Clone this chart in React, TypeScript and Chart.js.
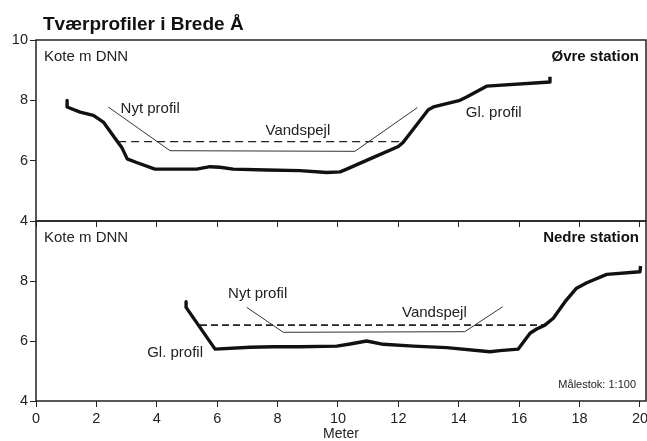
import React, { useEffect, useRef } from 'react';
import { Chart, registerables } from 'chart.js';
Chart.register(...registerables);

const FONT = "'Liberation Sans', Arial, Helvetica, sans-serif";
const INK = '#222';
const TICK_SIZE = 14.5;
const LABEL_SIZE = 15;

// ---- Øvre station (top panel) ----
const topOldX = [1.03, 1.03, 1.46, 1.9, 2.23, 2.67, 2.84, 3.02, 3.33, 3.94, 5.32, 5.76, 6.09, 6.53, 7.64, 8.74, 9.63, 10.07, 10.29, 11.06, 12.0, 12.16, 12.99, 13.16, 14.04, 14.26, 14.92, 17.02, 17.02];
const topOldY = [8.0, 7.78, 7.61, 7.5, 7.28, 6.67, 6.44, 6.06, 5.94, 5.72, 5.72, 5.8, 5.78, 5.72, 5.69, 5.67, 5.61, 5.63, 5.72, 6.06, 6.47, 6.61, 7.69, 7.78, 8.0, 8.11, 8.47, 8.61, 8.78];
const topNewX = [2.39, 4.44, 10.56, 12.63];
const topNewY = [7.78, 6.33, 6.31, 7.76];
const topWaterX = [2.72, 12.1];
const topWaterY = [6.63, 6.63];

// ---- Nedre station (bottom panel) ----
const botOldX = [4.97, 4.97, 5.93, 7.09, 7.86, 8.74, 9.96, 10.4, 10.95, 11.5, 12.5, 13.6, 15.03, 15.36, 15.97, 16.36, 16.58, 16.85, 17.13, 17.52, 17.9, 18.24, 18.9, 20.0, 20.02];
const botOldY = [7.31, 7.12, 5.73, 5.79, 5.81, 5.81, 5.83, 5.9, 6.0, 5.89, 5.83, 5.78, 5.64, 5.68, 5.73, 6.26, 6.4, 6.53, 6.76, 7.31, 7.76, 7.94, 8.22, 8.31, 8.5];
const botNewX = [6.98, 8.19, 14.2, 15.45];
const botNewY = [7.12, 6.29, 6.31, 7.14];
const botWaterX = [5.43, 16.8];
const botWaterY = [6.53, 6.53];

const xMin = 0;
const xMax = 20.2;
const xStep = 2;
const yMin = 4;
const yMax = 10;
const yStep = 2;

const title = 'Tværprofiler i Brede Å';
const yLabel = 'Kote m DNN';
const xTitle = 'Meter';
const topStation = 'Øvre station';
const botStation = 'Nedre station';
const scaleNote = 'Målestok: 1:100';

type Lbl = { text: string; x: number; y: number; align: CanvasTextAlign };
const topLabels: Lbl[] = [
  { text: 'Nyt profil', x: 2.8, y: 7.73, align: 'left' },
  { text: 'Vandspejl', x: 7.6, y: 7.0, align: 'left' },
  { text: 'Gl. profil', x: 14.23, y: 7.6, align: 'left' },
];
const botLabels: Lbl[] = [
  { text: 'Nyt profil', x: 6.36, y: 7.57, align: 'left' },
  { text: 'Vandspejl', x: 12.12, y: 6.93, align: 'left' },
  { text: 'Gl. profil', x: 5.53, y: 5.6, align: 'right' },
];

const pts = (xs: number[], ys: number[]) => xs.map((x, i) => ({ x, y: ys[i] }));

function datasets(oldX: number[], oldY: number[], newX: number[], newY: number[], wX: number[], wY: number[], dash: number[], wWidth: number) {
  return [
    { label: 'Gl. profil', data: pts(oldX, oldY), borderColor: '#111', borderWidth: 3.4, showLine: true, pointRadius: 0, borderJoinStyle: 'round', borderCapStyle: 'butt', tension: 0 },
    { label: 'Nyt profil', data: pts(newX, newY), borderColor: '#333', borderWidth: 1, showLine: true, pointRadius: 0, tension: 0 },
    { label: 'Vandspejl', data: pts(wX, wY), borderColor: '#222', borderWidth: wWidth, borderDash: dash, showLine: true, pointRadius: 0, tension: 0 },
  ];
}

function makePlugin(labels: Lbl[], extra: (ctx: CanvasRenderingContext2D, a: any) => void) {
  return {
    id: 'panelDecor',
    afterDraw(chart: any) {
      const { ctx, chartArea: a, scales } = chart;
      ctx.save();
      ctx.strokeStyle = INK;
      ctx.lineWidth = 1.5;
      ctx.strokeRect(a.left, a.top, a.right - a.left, a.bottom - a.top);
      ctx.fillStyle = INK;
      ctx.textBaseline = 'middle';
      ctx.font = `${LABEL_SIZE}px ${FONT}`;
      for (const l of labels) {
        ctx.textAlign = l.align;
        ctx.fillText(l.text, scales.x.getPixelForValue(l.x), scales.y.getPixelForValue(l.y));
      }
      extra(ctx, a);
      ctx.restore();
    },
  };
}

function axisX(showLabels: boolean) {
  return {
    type: 'linear',
    min: xMin,
    max: xMax,
    ticks: {
      display: showLabels,
      stepSize: xStep,
      includeBounds: false,
      autoSkip: false,
      maxRotation: 0,
      font: { family: FONT, size: TICK_SIZE },
      color: INK,
      padding: 3,
    },
    title: showLabels
      ? { display: true, text: xTitle, font: { family: FONT, size: 14 }, color: INK, padding: { top: 0, bottom: 0 } }
      : { display: false },
    grid: { drawOnChartArea: false, drawTicks: true, tickLength: 6, color: INK, lineWidth: 1 },
    border: { display: false },
    afterFit: (s: any) => {
      s.height = showLabels ? 42 : 9;
      s.paddingLeft = 0;
      s.paddingRight = 0;
    },
  };
}

function axisY(hideTop: boolean) {
  return {
    type: 'linear',
    min: yMin,
    max: yMax,
    ticks: {
      stepSize: yStep,
      font: { family: FONT, size: TICK_SIZE },
      color: INK,
      padding: 2,
      callback: (v: number) => (hideTop && v === yMax ? '' : String(v)),
    },
    grid: { drawOnChartArea: false, drawTicks: true, tickLength: 6, color: INK, lineWidth: 1 },
    border: { display: false },
    afterFit: (s: any) => {
      s.width = 36;
      s.paddingTop = 0;
      s.paddingBottom = 0;
    },
  };
}

export default function App() {
  const aRef = useRef<HTMLCanvasElement>(null);
  const bRef = useRef<HTMLCanvasElement>(null);

  useEffect(() => {
    const topPlugin = makePlugin(topLabels, (ctx, a) => {
      ctx.textBaseline = 'alphabetic';
      ctx.textAlign = 'left';
      ctx.font = `bold 19px ${FONT}`;
      ctx.fillStyle = '#111';
      ctx.fillText(title, 43, 30);
      ctx.fillStyle = INK;
      ctx.textBaseline = 'middle';
      ctx.font = `${LABEL_SIZE}px ${FONT}`;
      ctx.fillText(yLabel, a.left + 8, a.top + 17);
      ctx.textAlign = 'right';
      ctx.font = `bold ${LABEL_SIZE}px ${FONT}`;
      ctx.fillStyle = '#111';
      ctx.fillText(topStation, a.right - 7, a.top + 17);
    });
    const botPlugin = makePlugin(botLabels, (ctx, a) => {
      ctx.textBaseline = 'middle';
      ctx.textAlign = 'left';
      ctx.font = `${LABEL_SIZE}px ${FONT}`;
      ctx.fillStyle = INK;
      ctx.fillText(yLabel, a.left + 8, a.top + 17);
      ctx.textAlign = 'right';
      ctx.font = `bold ${LABEL_SIZE}px ${FONT}`;
      ctx.fillStyle = '#111';
      ctx.fillText(botStation, a.right - 7, a.top + 17);
      ctx.font = `11px ${FONT}`;
      ctx.fillStyle = INK;
      ctx.fillText(scaleNote, a.right - 10, a.bottom - 16);
    });

    const common = (pad: any) => ({
      responsive: false,
      animation: false,
      layout: { padding: pad },
      plugins: { legend: { display: false }, tooltip: { enabled: false }, title: { display: false } },
    });

    const ca = new Chart(aRef.current!, {
      type: 'scatter',
      data: { datasets: datasets(topOldX, topOldY, topNewX, topNewY, topWaterX, topWaterY, [8, 5], 1.2) as any },
      options: { ...common({ top: 40, right: 1, left: 0, bottom: 0 }), scales: { x: axisX(false), y: axisY(false) } } as any,
      plugins: [topPlugin],
    });
    const cb = new Chart(bRef.current!, {
      type: 'scatter',
      data: { datasets: datasets(botOldX, botOldY, botNewX, botNewY, botWaterX, botWaterY, [7, 4], 1.8) as any },
      options: { ...common({ top: 5, right: 1, left: 0, bottom: 0 }), scales: { x: axisX(true), y: axisY(true) } } as any,
      plugins: [botPlugin],
    });
    return () => {
      ca.destroy();
      cb.destroy();
    };
  }, []);

  return (
    <div style={{ position: 'fixed', left: 0, top: 0, width: 647, height: 441, background: '#fff', overflow: 'hidden' }}>
      <canvas ref={aRef} width={647} height={230} style={{ position: 'absolute', left: 0, top: 0, display: 'block' }} />
      <canvas ref={bRef} width={647} height={227} style={{ position: 'absolute', left: 0, top: 216, display: 'block' }} />
    </div>
  );
}
